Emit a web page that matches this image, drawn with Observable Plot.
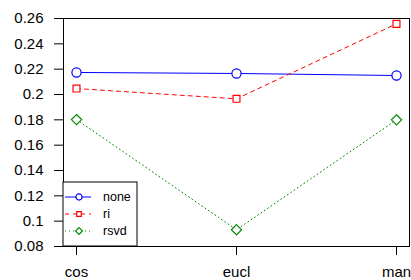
<!DOCTYPE html>
<html>
<head>
<meta charset="utf-8">
<script src="https://cdn.jsdelivr.net/npm/d3@7"></script>
<script src="https://cdn.jsdelivr.net/npm/@observablehq/plot@0.6"></script>
<style>
  html, body { margin: 0; padding: 0; background: white; }
  #chart { width: 411px; height: 280px; position: relative; }
</style>
</head>
<body>
<div id="chart"></div>
<script>
const categories = ["cos", "eucl", "man"];
const seriesNames = ["none", "ri", "rsvd"];
const noneValues = [0.2174, 0.2166, 0.2150];
const riValues = [0.2047, 0.1966, 0.2558];
const rsvdValues = [0.1802, 0.0932, 0.1800];
const yTicks = [0.08, 0.10, 0.12, 0.14, 0.16, 0.18, 0.20, 0.22, 0.24, 0.26];

const seriesValues = {none: noneValues, ri: riValues, rsvd: rsvdValues};
const styles = {
  none: {color: "#0000FF", dash: null, symbol: "circle", r: 4.6},
  ri: {color: "#FF0000", dash: "4,4", symbol: "square2", r: 4.4},
  rsvd: {color: "#008B00", dash: "1,3", symbol: "diamond2", r: 4.6}
};

const data = [];
for (const s of seriesNames) {
  categories.forEach((c, i) => data.push({series: s, cat: c, value: seriesValues[s][i]}));
}

const marks = [Plot.frame({stroke: "black"})];
for (const s of seriesNames) {
  const st = styles[s];
  const d = data.filter(r => r.series === s);
  marks.push(Plot.line(d, {x: "cat", y: "value", stroke: st.color, strokeWidth: 1, strokeDasharray: st.dash}));
  marks.push(Plot.dot(d, {x: "cat", y: "value", stroke: st.color, fill: "white", symbol: st.symbol, r: st.r, strokeWidth: 1.2}));
}
marks.push(Plot.axisY(yTicks, {tickSize: 9, tickPadding: 11, fontSize: 15, stroke: "black", tickFormat: d => String(+d.toFixed(2))}));
marks.push(Plot.axisX(categories, {tickSize: 9, tickPadding: 11, fontSize: 15, stroke: "black"}));

const plot = Plot.plot({
  width: 411,
  height: 280,
  marginLeft: 63,
  marginRight: 2,
  marginTop: 18,
  marginBottom: 34,
  style: {fontFamily: "'Liberation Sans', Arial, sans-serif", fontSize: "15px", color: "black", background: "white"},
  x: {type: "point", domain: categories, padding: 0.08, label: null},
  y: {domain: [0.08, 0.26], label: null},
  marks
});

// Legend (bottom-left inside the plot box)
const svg = d3.select(plot);
const lx = 63, ly = 182, lw = 74, lh = 64;
const g = svg.append("g").attr("font-family", "'Liberation Sans', Arial, sans-serif")
  .attr("font-size", 12.5).attr("text-anchor", "start");
g.append("rect").attr("x", lx).attr("y", ly).attr("width", lw).attr("height", lh)
  .attr("fill", "white").attr("stroke", "black");
const symbolTypes = {circle: d3.symbolCircle, square2: d3.symbolSquare2, diamond2: d3.symbolDiamond2};
seriesNames.forEach((s, i) => {
  const st = styles[s];
  const yy = ly + 15 + i * 17;
  g.append("line").attr("x1", lx + 2).attr("x2", lx + 28).attr("y1", yy).attr("y2", yy)
    .attr("stroke", st.color).attr("stroke-dasharray", st.dash);
  g.append("path").attr("transform", `translate(${lx + 16},${yy})`)
    .attr("d", d3.symbol(symbolTypes[st.symbol], Math.PI * st.r * st.r * 0.45)())
    .attr("fill", "white").attr("stroke", st.color).attr("stroke-width", 1.2);
  g.append("text").attr("x", lx + 40).attr("y", yy).attr("dy", "0.35em").attr("fill", "black").text(s);
});

document.getElementById("chart").appendChild(plot);
</script>
</body>
</html>
